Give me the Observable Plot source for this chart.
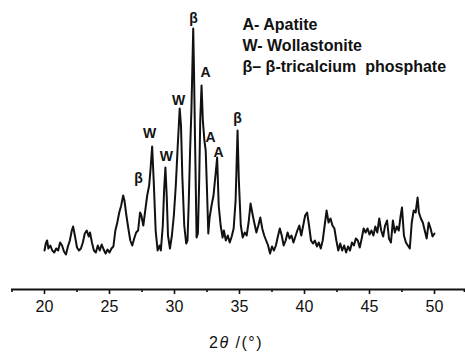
<!DOCTYPE html>
<html>
<head>
<meta charset="utf-8">
<script src="https://cdn.jsdelivr.net/npm/d3@7"></script>
<script src="https://cdn.jsdelivr.net/npm/@observablehq/plot@0.6"></script>
<style>
  html, body { margin: 0; padding: 0; background: #fff; }
  #chart { width: 465px; height: 353px; }
</style>
</head>
<body>
<div id="chart"></div>
<script>
// 2θ (degrees) positions of the pattern
const twoTheta = [
  20.0,20.1,20.2,20.3,20.45,20.6,20.75,20.9,21.05,21.2,21.35,21.5,21.65,21.8,21.95,22.1,22.2,22.35,22.5,22.65,
  22.8,22.95,23.1,23.25,23.4,23.5,23.65,23.8,23.95,24.1,24.25,24.4,24.55,24.7,24.85,25.0,25.15,25.3,25.45,25.6,
  25.75,25.9,26.05,26.15,26.3,26.45,26.6,26.75,26.9,27.05,27.2,27.35,27.45,27.6,27.75,27.9,28.05,28.15,28.28,28.4,
  28.55,28.7,28.85,28.95,29.1,29.2,29.3,29.4,29.5,29.65,29.8,29.95,30.1,30.25,30.4,30.5,30.6,30.75,30.9,31.0,
  31.1,31.2,31.3,31.37,31.44,31.5,31.58,31.7,31.8,31.9,31.98,32.08,32.18,32.3,32.4,32.5,32.6,32.7,32.85,33.0,
  33.15,33.28,33.4,33.55,33.7,33.8,33.95,34.1,34.25,34.4,34.55,34.7,34.85,34.95,35.1,35.25,35.4,35.55,35.7,35.85,
  35.95,36.1,36.3,36.45,36.6,36.75,36.9,37.05,37.2,37.35,37.5,37.65,37.8,37.95,38.1,38.25,38.4,38.55,38.7,38.85,
  39.0,39.15,39.3,39.45,39.6,39.75,39.9,40.05,40.2,40.35,40.5,40.65,40.8,40.95,41.1,41.25,41.4,41.55,41.7,41.85,
  42.0,42.15,42.3,42.45,42.6,42.75,42.9,43.05,43.2,43.35,43.5,43.65,43.8,43.95,44.1,44.25,44.4,44.55,44.7,44.85,
  45.0,45.15,45.3,45.45,45.6,45.75,45.9,46.05,46.2,46.35,46.5,46.65,46.8,46.95,47.1,47.25,47.4,47.5,47.65,47.8,
  47.95,48.1,48.25,48.4,48.55,48.7,48.8,48.95,49.1,49.25,49.4,49.55,49.7,49.85,50.0
];
// intensity (arbitrary units)
const intensity = [
  39,46,49,41,44,39,37,41,39,47,44,38,35,43,49,59,63,53,42,39,
  41,47,56,59,53,57,47,39,37,44,39,45,40,36,40,37,41,43,59,67,
  77,84,94,89,74,61,49,44,51,57,59,77,74,64,79,94,104,119,143,109,
  59,39,44,39,64,99,122,94,54,41,54,74,104,144,181,164,114,64,46,49,
  89,139,179,219,261,219,149,52,56,109,169,204,169,149,139,99,56,72,84,94,
  114,132,84,64,52,59,49,54,47,53,61,89,159,109,64,52,57,54,67,86,
  79,69,57,64,72,61,54,49,44,36,43,39,44,53,61,54,44,49,57,51,
  54,47,53,59,64,54,64,74,77,64,49,46,49,43,47,41,49,64,79,67,
  71,64,61,49,39,46,39,44,37,43,39,47,44,51,49,42,51,61,57,61,
  55,59,54,63,57,71,59,53,64,69,51,47,69,57,63,59,74,82,54,47,
  44,41,67,79,77,92,77,71,67,59,51,67,61,53,56
];
const pattern = twoTheta.map((x, i) => ({x, y: intensity[i]}));

// phase labels on the peaks
const peakLabel = ["β", "A", "W", "W", "W", "A", "A", "β", "β"];
const peakX     = [31.46, 32.38, 30.31, 28.08, 29.38, 32.77, 33.38, 34.85, 27.23];
const peakY     = [271, 217, 189, 156, 133, 152, 137, 171, 111];
const peaks = peakLabel.map((t, i) => ({t, x: peakX[i], y: peakY[i]}));

const legendLines = ["A- Apatite", "W- Wollastonite", "β– β-tricalcium  phosphate"];
const majorTicks = [20, 25, 30, 35, 40, 45, 50];
const minorTicks = [17.5, 22.5, 27.5, 32.5, 37.5, 42.5, 47.5, 52.3];

const font = "'Liberation Sans', Arial, sans-serif";

const chart = Plot.plot({
  width: 465,
  height: 353,
  marginTop: 20,
  marginBottom: 64,
  marginLeft: 11,
  marginRight: 0,
  style: {fontFamily: font, background: "#fff", color: "#111"},
  x: {domain: [20 - 33/13, 50 + 31/13]},
  y: {domain: [0, 269], axis: null},
  marks: [
    Plot.ruleY([0], {stroke: "#111", strokeWidth: 2}),
    Plot.axisX({ticks: majorTicks, tickSize: 5, tickPadding: 6, fontSize: 16,
      tickFormat: d => String(d), stroke: "#111", strokeWidth: 1.6, fill: "#111",
      label: null, style: {letterSpacing: "1.5px"}}),
    Plot.axisX({ticks: minorTicks, tickSize: 3, text: null, stroke: "#111", strokeWidth: 1.6, label: null}),
    Plot.line(pattern, {x: "x", y: "y", stroke: "#111", strokeWidth: 2, strokeLinejoin: "round"}),
    Plot.text(peaks, {x: "x", y: "y", text: "t", fontSize: 14, fontWeight: "bold", fill: "#111"}),
    Plot.text([legendLines.join("\n")], {frameAnchor: "top-left", dx: 231, dy: -5,
      lineAnchor: "top", textAnchor: "start", fontSize: 16, fontWeight: "bold", lineHeight: 1.3,
      fill: "#111", style: {letterSpacing: "1.1px"}})
  ]
});
document.getElementById("chart").appendChild(chart);

// axis title with italic theta
const svg = d3.select(chart);
const t = svg.append("text")
  .attr("x", 236).attr("y", 348)
  .attr("text-anchor", "middle")
  .attr("font-family", font)
  .attr("font-size", 16)
  .attr("fill", "#111")
  .style("letter-spacing", "1.5px");
t.append("tspan").text("2");
t.append("tspan").attr("font-style", "italic").text("θ");
t.append("tspan").text(" /(°)");
</script>
</body>
</html>
